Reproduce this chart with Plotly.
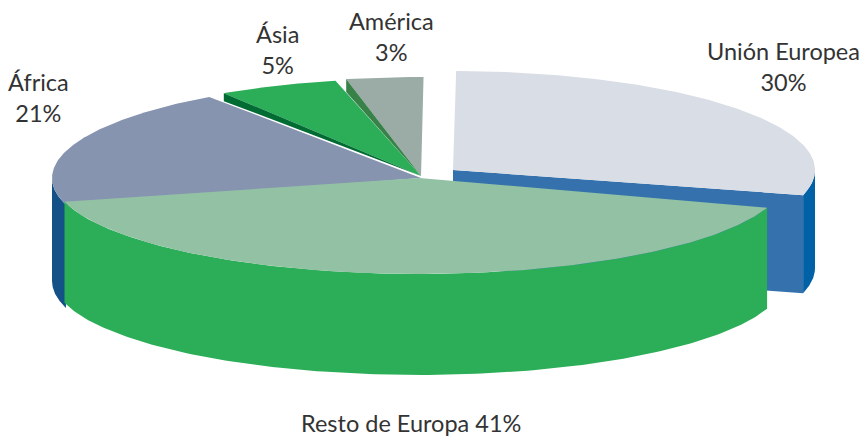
import numpy as np
import plotly.graph_objects as go

WIDTH, HEIGHT = 862, 436

# shares, clockwise from twelve o'clock
regions = ["Unión Europea", "Resto de Europa", "África", "Ásia", "América"]
shares = [30, 41, 21, 5, 3]

top_colors = ["#D9DDE6", "#92C1A4", "#8694B0", "#2BAE57", "#9AACA5"]
rim_colors = ["#0061A6", "#2BAE57", "#135187", "#006B33", "#38824A"]
cut_color = "#3572AD"

# hand-fitted projection of each slice, in page pixels
centres_x = [453, 419, 421, 421, 421]
centres_y = [170, 178, 178, 176, 176]
radii_x = [362, 366, 369, 369, 369]
radii_y = [99, 96, 99, 98, 99]
depths = [98, 101, 103, 0, 0]
turns = [0.5, 0, -1.4, -3.5, -0.9]
stretches = [0.965, 1, 0.936, 1.05, 1.12]
wedges = [0, 0, 0, 8, 13]

label_x = [783, 411, 38, 277, 391]
label_y = [66, 423, 97, 49, 36]


def arc(i, start, end):
    t = np.radians(np.linspace(start, end, 160))
    return centres_x[i] + radii_x[i] * np.sin(t), centres_y[i] - radii_y[i] * np.cos(t)


def add_poly(fig, xs, ys, color):
    fig.add_scatter(
        x=xs, y=ys, mode="lines", fill="toself", fillcolor=color,
        line=dict(width=0), hoverinfo="skip", showlegend=False,
    )


def draw_slice(fig, i, start, end):
    x, y = arc(i, start, end)
    cx, cy = centres_x[i], centres_y[i]
    depth = depths[i]
    if depth:
        if i == 0:
            # the cut edge facing the viewer
            add_poly(fig, [cx, x[-1], x[-1], cx], [cy, y[-1], y[-1] + depth, cy + depth], cut_color)
        # only the front half of the rim can be seen
        rx, ry = arc(i, max(start, 90), min(end, 270))
        add_poly(fig, np.r_[rx, rx[::-1]], np.r_[ry, ry[::-1] + depth], rim_colors[i])
    add_poly(fig, np.r_[cx, x, cx], np.r_[cy, y, cy], top_colors[i])
    if wedges[i]:
        add_poly(fig, [x[0], x[0], cx], [y[0], y[0] + wedges[i], cy], rim_colors[i])


edges = np.r_[0, np.cumsum(shares)] * 3.6
spans = []
for i in range(len(shares)):
    start = edges[i] + turns[i]
    spans.append((start, start + (edges[i + 1] - edges[i]) * stretches[i]))

fig = go.Figure()
# back to front, so "Resto de Europa" covers the others
for i in [0, 2, 3, 4, 1]:
    draw_slice(fig, i, *spans[i])

for i, name in enumerate(regions):
    sep = " " if name == "Resto de Europa" else "<br>"
    fig.add_annotation(
        x=label_x[i], y=label_y[i], text=f"{name}{sep}{shares[i]}%", showarrow=False,
        font=dict(family="Lato", size=23.5, color="#333333"), align="center",
    )

fig.update_xaxes(range=[0, WIDTH], visible=False, fixedrange=True)
fig.update_yaxes(range=[HEIGHT, 0], visible=False, fixedrange=True)
fig.update_layout(
    width=WIDTH, height=HEIGHT, margin=dict(l=0, r=0, t=0, b=0),
    paper_bgcolor="white", plot_bgcolor="white",
)
fig.write_html("out.html", config={"displayModeBar": False},
               post_script="document.body.style.margin='0';")
